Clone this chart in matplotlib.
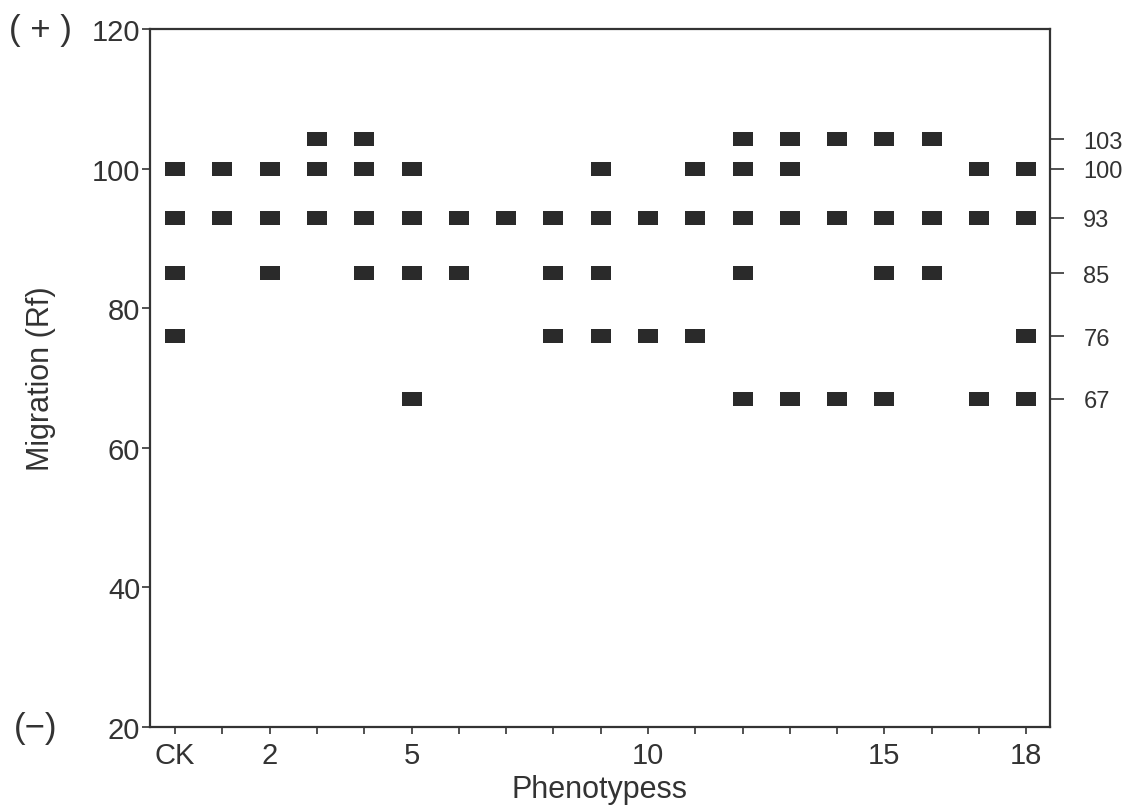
import matplotlib.pyplot as plt
from matplotlib.ticker import FixedLocator

plt.rcParams['font.family'] = ['Liberation Sans', 'DejaVu Sans']

# phenotype columns: 0 = CK, then 1..18
phenotypes = list(range(19))
x_tick_pos = [0, 2, 5, 10, 15, 18]
x_tick_labels = ['CK', '2', '5', '10', '15', '18']

# band names and where they sit on the migration axis (Rf)
band_names = ['103', '100', '93', '85', '76', '67']
band_rf = [104.2, 100, 93, 85, 76, 67]

# bands present in each phenotype (by band name)
bands = [
    ['100', '93', '85', '76'],          # CK
    ['100', '93'],                      # 1
    ['100', '93', '85'],                # 2
    ['103', '100', '93'],               # 3
    ['103', '100', '93', '85'],         # 4
    ['100', '93', '85', '67'],          # 5
    ['93', '85'],                       # 6
    ['93'],                             # 7
    ['93', '85', '76'],                 # 8
    ['100', '93', '85', '76'],          # 9
    ['93', '76'],                       # 10
    ['100', '93', '76'],                # 11
    ['103', '100', '93', '85', '67'],   # 12
    ['103', '100', '93', '67'],         # 13
    ['103', '93', '67'],                # 14
    ['103', '93', '85', '67'],          # 15
    ['103', '93', '85'],                # 16
    ['100', '93', '67'],                # 17
    ['100', '93', '76', '67'],          # 18
]

rf_of = dict(zip(band_names, band_rf))
xs, ys = [], []
for p, present in zip(phenotypes, bands):
    for b in present:
        xs.append(p)
        ys.append(rf_of[b])

fig = plt.figure(figsize=(11.32, 8.12), dpi=100)
ax = fig.add_axes([0.1325, 0.1034, 0.795, 0.8596])

rect = [(-1, -0.68), (1, -0.68), (1, 0.68), (-1, 0.68)]
ax.scatter(xs, ys, marker=rect, s=210, color='#2a2a2a', linewidths=0, zorder=3)

ax.set_xlim(-0.53, 18.5)
ax.set_ylim(20, 120)

ax.set_yticks([20, 40, 60, 80, 100, 120])
ax.tick_params(axis='y', direction='out', length=6, width=1.2, labelsize=21, pad=1, colors='#333333')
ax.set_xticks(x_tick_pos)
ax.set_xticklabels(x_tick_labels)
ax.xaxis.set_minor_locator(FixedLocator(phenotypes))
ax.tick_params(axis='x', which='both', direction='out', length=5, width=1.2, labelsize=21, pad=5, colors='#333333')

for s in ax.spines.values():
    s.set_linewidth(1.6)
    s.set_color('#333333')

ax.set_xlabel('Phenotypess', fontsize=22, color='#333333', labelpad=4)
ax.set_ylabel('Migration (Rf)', fontsize=22, color='#333333', labelpad=26)

# right-hand band labels
ax2 = ax.twinx()
ax2.set_ylim(20, 120)
ax2.set_yticks(band_rf)
ax2.set_yticklabels(band_names)
ax2.tick_params(axis='y', direction='out', length=10, width=1.2, labelsize=17, pad=14, colors='#333333')
for s in ax2.spines.values():
    s.set_visible(False)

fig.text(0.008, 0.963, '( + )', fontsize=25, color='#333333', va='center', ha='left')
fig.text(0.012, 0.1034, '(\u2212)', fontsize=25, color='#333333', va='center', ha='left')

fig.savefig('out.png', dpi=100)
